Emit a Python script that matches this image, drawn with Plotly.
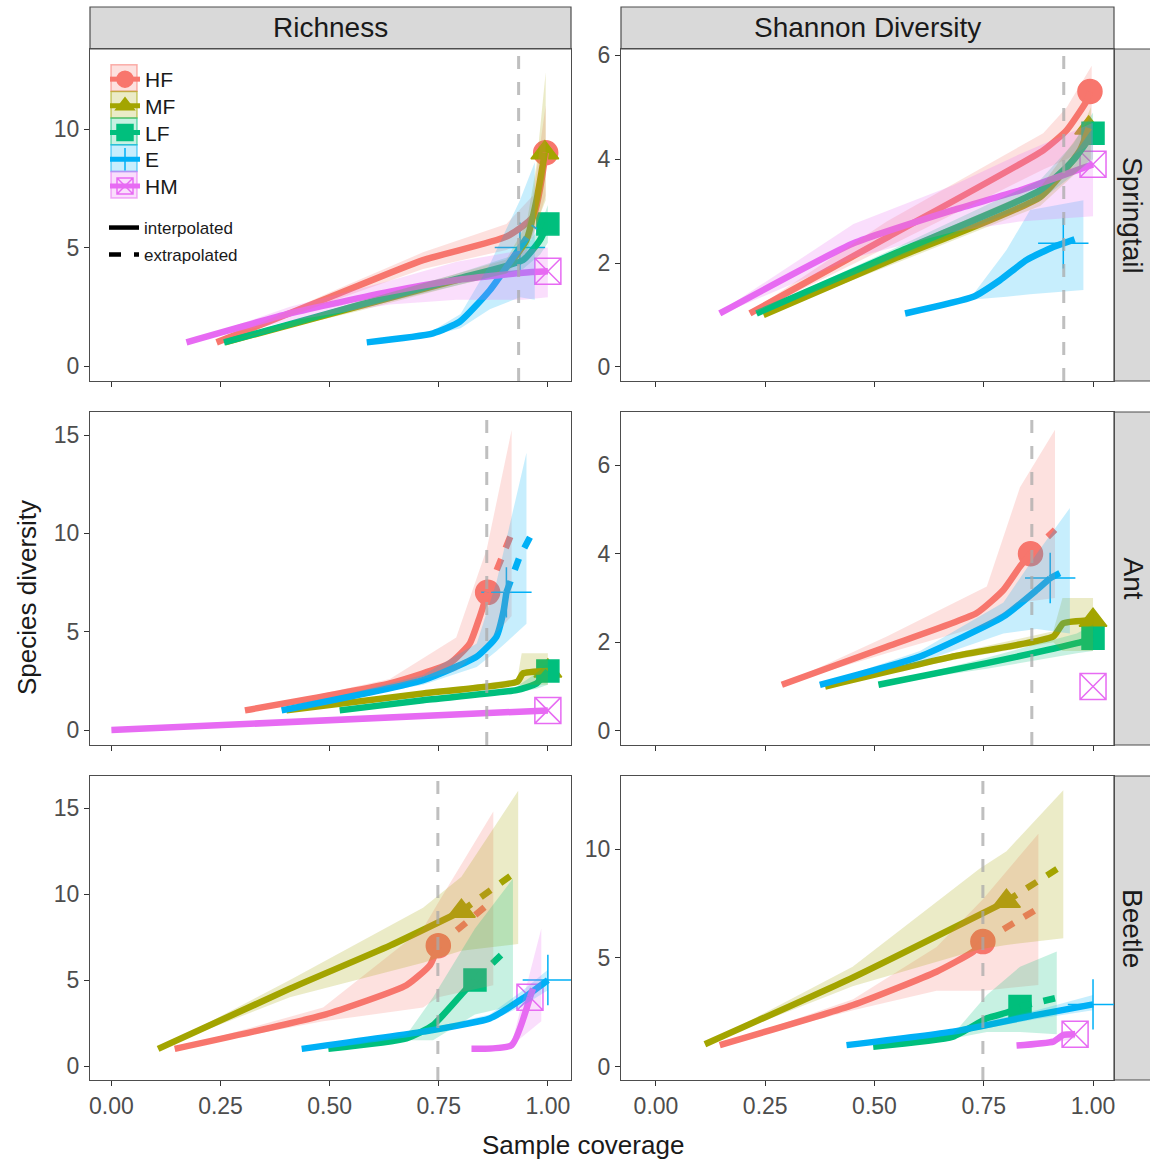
import plotly.graph_objects as go

# ---------------- data ----------------
GROUPS = ["HF", "MF", "LF", "E", "HM"]
TAXA = ["Springtail", "Ant", "Beetle"]
METRICS = ["Richness", "Shannon Diversity"]
LINE_TYPES = ["interpolated", "extrapolated"]
ref_coverage = {"Springtail": 0.933, "Ant": 0.86, "Beetle": 0.748}
x_ticks = [0.0, 0.25, 0.5, 0.75, 1.0]
x_tick_labels = ["0.00", "0.25", "0.50", "0.75", "1.00"]
y_ticks = {("Springtail", "Richness"): [0, 5, 10], ("Springtail", "Shannon Diversity"): [0, 2, 4, 6],
           ("Ant", "Richness"): [0, 5, 10, 15], ("Ant", "Shannon Diversity"): [0, 2, 4, 6],
           ("Beetle", "Richness"): [0, 5, 10, 15], ("Beetle", "Shannon Diversity"): [0, 5, 10]}

# Springtail - Richness
sr_line_x = {"HF": [0.241, 0.50, 0.714, 0.905, 0.966, 0.995], "MF": [0.26, 0.562, 0.791, 0.905, 0.951, 0.974, 0.993],
             "LF": [0.258, 0.562, 0.791, 0.943, 0.982, 1.0], "E": [0.585, 0.737, 0.798, 0.867, 0.936],
             "HM": [0.172, 0.409, 0.638, 0.791, 0.943, 1.0]}
sr_line_y = {"HF": [1.0, 2.9, 4.47, 5.46, 6.3, 9.0], "MF": [1.0, 2.5, 3.63, 4.19, 5.32, 7.0, 9.0],
             "LF": [1.0, 2.55, 3.68, 4.47, 5.32, 6.0], "E": [1.0, 1.38, 1.87, 3.2, 5.0],
             "HM": [1.0, 2.22, 3.14, 3.63, 3.94, 4.0]}
sr_ext_x = {"E": [0.936, 0.97]}
sr_ext_y = {"E": [5.0, 5.9]}
sr_band_x = {"HF": [0.241, 0.5, 0.714, 0.905, 0.966, 0.995], "MF": [0.26, 0.562, 0.791, 0.905, 0.951, 0.974, 0.995],
             "LF": [0.258, 0.562, 0.791, 0.943, 0.982, 1.0], "E": [0.737, 0.8, 0.867, 0.936, 0.97],
             "HM": [0.172, 0.409, 0.638, 0.791, 0.943, 1.0]}
sr_band_lo = {"HF": [1, 2.7, 4.1, 4.9, 5.4, 7.2], "MF": [1, 2.3, 3.4, 3.9, 4.8, 6.0, 7.0],
              "LF": [1, 2.4, 3.4, 4.1, 4.7, 5.2], "E": [1.3, 1.6, 2.4, 2.9, 2.8], "HM": [1, 1.9, 2.6, 2.8, 2.8, 2.9]}
sr_band_hi = {"HF": [1, 3.1, 4.8, 6.0, 7.2, 11.0], "MF": [1, 2.7, 3.9, 4.5, 6.0, 8.5, 12.4],
              "LF": [1, 2.7, 3.9, 4.8, 5.9, 6.8], "E": [1.5, 2.2, 4.3, 7.0, 8.6], "HM": [1, 2.5, 3.6, 4.4, 4.9, 5.0]}

# Springtail - Shannon
sd_line_x = {"HF": [0.215, 0.528, 0.886, 0.94, 0.986, 0.993], "MF": [0.246, 0.55, 0.879, 0.97, 0.99],
             "LF": [0.23, 0.55, 0.879, 0.955, 1.0], "E": [0.57, 0.726, 0.787, 0.848, 0.909, 0.932],
             "HM": [0.146, 0.452, 0.68, 0.833, 1.0]}
sd_line_y = {"HF": [1.03, 2.49, 4.17, 4.56, 5.13, 5.3], "MF": [1.0, 2.1, 3.27, 4.17, 4.6],
             "LF": [1.03, 2.2, 3.4, 3.98, 4.5], "E": [1.03, 1.35, 1.67, 2.06, 2.31, 2.38],
             "HM": [1.03, 2.38, 3.02, 3.4, 3.9]}
sd_ext_x = {"E": [0.932, 0.963]}
sd_ext_y = {"E": [2.38, 2.47]}
sd_band_x = {"HF": [0.215, 0.528, 0.886, 0.94, 0.997], "MF": [0.246, 0.55, 0.879, 0.97, 0.995],
             "LF": [0.23, 0.55, 0.879, 0.955, 1.0], "E": [0.726, 0.802, 0.856, 0.978],
             "HM": [0.146, 0.452, 0.68, 0.833, 1.0]}
sd_band_lo = {"HF": [1.0, 2.3, 3.8, 4.0, 4.3], "MF": [1.0, 2.0, 3.1, 3.8, 4.0], "LF": [1.0, 2.1, 3.2, 3.7, 4.0],
              "E": [1.3, 1.35, 1.4, 1.48], "HM": [1.0, 2.1, 2.6, 2.8, 2.9]}
sd_band_hi = {"HF": [1.06, 2.8, 4.5, 5.0, 5.8], "MF": [1.0, 2.25, 3.45, 4.5, 5.0], "LF": [1.06, 2.3, 3.6, 4.3, 4.9],
              "E": [1.4, 2.25, 3.02, 3.21], "HM": [1.06, 2.75, 3.5, 4.1, 4.7]}

# Ant - Richness
ar_line_x = {"HF": [0.306, 0.638, 0.775, 0.821, 0.844, 0.862], "MF": [0.401, 0.714, 0.93, 0.943, 1.0],
             "LF": [0.523, 0.714, 0.928, 0.974, 1.0], "E": [0.39, 0.714, 0.837, 0.882, 0.898, 0.905],
             "HM": [0.0, 1.0]}
ar_line_y = {"HF": [1.0, 2.37, 3.39, 4.4, 5.76, 7.0], "MF": [1.0, 1.86, 2.46, 2.88, 3.0],
             "LF": [1.0, 1.52, 2.03, 2.37, 3.0], "E": [1.0, 2.54, 3.73, 4.74, 6.0, 7.0], "HM": [0.0, 1.0]}
ar_ext_x = {"HF": [0.862, 0.917], "E": [0.905, 0.935, 0.959]}
ar_ext_y = {"HF": [7.0, 10.0], "E": [7.0, 8.8, 9.8]}
ar_band_x = {"HF": [0.306, 0.638, 0.79, 0.86, 0.917], "MF": [0.401, 0.714, 0.93, 0.94, 1.0],
             "LF": [0.523, 0.714, 0.928, 0.974, 1.0], "E": [0.39, 0.714, 0.837, 0.882, 0.951]}
ar_band_lo = {"HF": [1, 2.2, 3.0, 4.4, 5.8], "MF": [1, 1.8, 2.3, 2.3, 2.3], "LF": [1, 1.45, 1.9, 2.1, 2.3],
              "E": [1, 2.3, 3.2, 4.0, 5.4]}
ar_band_hi = {"HF": [1, 2.6, 4.7, 9.2, 15.25], "MF": [1, 1.95, 2.6, 3.9, 3.9], "LF": [1, 1.6, 2.2, 2.9, 3.4],
              "E": [1, 2.8, 4.4, 7.5, 14.1]}

# Ant - Shannon
ad_line_x = {"HF": [0.288, 0.528, 0.734, 0.795, 0.833, 0.857], "MF": [0.387, 0.68, 0.909, 0.932, 1.0],
             "LF": [0.509, 0.757, 0.963, 1.0], "E": [0.375, 0.604, 0.795, 0.871, 0.902], "HM": [1.0]}
ad_line_y = {"HF": [1.04, 1.9, 2.66, 3.18, 3.71, 4.0], "MF": [1.0, 1.68, 2.13, 2.43, 2.5],
             "LF": [1.04, 1.53, 1.98, 2.09], "E": [1.04, 1.68, 2.58, 3.18, 3.45], "HM": [1.0]}
ad_ext_x = {"HF": [0.857, 0.913], "E": [0.902, 0.924]}
ad_ext_y = {"HF": [4.0, 4.54], "E": [3.45, 3.56]}
ad_band_x = {"HF": [0.288, 0.528, 0.757, 0.833, 0.913], "MF": [0.387, 0.68, 0.909, 0.93, 1.0],
             "LF": [0.509, 0.757, 0.963, 1.0], "E": [0.375, 0.604, 0.795, 0.871, 0.947]}
ad_band_lo = {"HF": [1.04, 1.75, 2.4, 2.9, 3.0], "MF": [1, 1.6, 2.0, 1.8, 1.8], "LF": [1.04, 1.4, 1.75, 1.8],
              "E": [1.04, 1.55, 2.2, 2.3, 2.2]}
ad_band_hi = {"HF": [1.04, 2.13, 3.26, 5.5, 6.8], "MF": [1, 1.75, 2.25, 3.0, 3.0], "LF": [1.04, 1.65, 2.2, 2.4],
              "E": [1.04, 1.8, 2.9, 4.0, 5.03]}

# Beetle - Richness
br_line_x = {"HF": [0.145, 0.485, 0.676, 0.73, 0.749], "MF": [0.107, 0.409, 0.638, 0.802],
             "LF": [0.497, 0.676, 0.737, 0.821, 0.833], "E": [0.436, 0.714, 0.867, 0.943, 1.0],
             "HM": [0.825, 0.917, 0.959]}
br_line_y = {"HF": [1.0, 2.96, 4.7, 5.87, 7.0], "MF": [1.0, 4.5, 7.0, 9.0], "LF": [1.0, 1.61, 2.38, 4.7, 5.0],
             "E": [1.0, 2.0, 2.77, 3.94, 5.0], "HM": [1.0, 1.22, 4.0]}
br_ext_x = {"HF": [0.749, 0.875], "MF": [0.802, 0.928], "LF": [0.833, 0.909], "HM": [0.959, 0.966]}
br_ext_y = {"HF": [7.0, 9.65], "MF": [9.0, 11.3], "LF": [5.0, 6.84], "HM": [4.0, 4.5]}
br_band_x = {"HF": [0.145, 0.485, 0.714, 0.749, 0.875], "MF": [0.107, 0.409, 0.714, 0.802, 0.932],
             "LF": [0.497, 0.676, 0.737, 0.833, 0.92], "E": [0.436, 0.714, 0.867, 0.943, 1.0],
             "HM": [0.825, 0.917, 0.985]}
br_band_lo = {"HF": [1, 2.6, 3.4, 4.0, 4.7], "MF": [1, 4.0, 6.0, 6.7, 7.1], "LF": [1, 1.5, 1.5, 3.0, 3.5],
              "E": [1, 1.9, 2.6, 3.5, 4.4], "HM": [1, 1.2, 2.6]}
br_band_hi = {"HF": [1, 3.4, 8.0, 9.5, 14.8], "MF": [1, 5.0, 9.2, 11.0, 16.0], "LF": [1, 1.8, 4.0, 8.0, 10.9],
              "E": [1, 2.1, 3.0, 4.4, 5.6], "HM": [1, 1.3, 8.0]}

# Beetle - Shannon
bd_line_x = {"HF": [0.146, 0.451, 0.642, 0.726, 0.748], "MF": [0.112, 0.45, 0.802],
             "LF": [0.497, 0.68, 0.757, 0.81, 0.833], "E": [0.436, 0.68, 0.871, 1.0],
             "HM": [0.825, 0.909, 0.932, 0.959]}
bd_line_y = {"HF": [1.0, 2.84, 4.37, 5.29, 5.75], "MF": [1.04, 4.1, 7.6], "LF": [0.93, 1.39, 2.23, 2.54, 2.77],
             "E": [1.0, 1.62, 2.39, 2.87], "HM": [0.98, 1.16, 1.47, 1.5]}
bd_ext_x = {"HF": [0.748, 0.875], "MF": [0.802, 0.932], "LF": [0.833, 0.913]}
bd_ext_y = {"HF": [5.75, 7.28], "MF": [7.6, 9.27], "LF": [2.77, 3.15]}
bd_band_x = {"HF": [0.146, 0.451, 0.642, 0.748, 0.875], "MF": [0.112, 0.45, 0.741, 0.802, 0.932],
             "LF": [0.497, 0.68, 0.757, 0.833, 0.917], "E": [0.436, 0.68, 0.871, 1.0],
             "HM": [0.825, 0.909, 0.959]}
bd_band_lo = {"HF": [1, 2.6, 3.5, 3.5, 3.76], "MF": [1.04, 3.7, 5.4, 5.6, 5.9], "LF": [0.93, 1.3, 1.6, 1.6, 1.5],
              "E": [1, 1.5, 2.2, 2.6], "HM": [0.98, 1.1, 1.3]}
bd_band_hi = {"HF": [1, 3.1, 5.5, 7.7, 10.7], "MF": [1.04, 4.6, 9.1, 9.9, 12.7], "LF": [0.93, 1.5, 3.3, 4.6, 5.3],
              "E": [1, 1.75, 2.6, 3.3], "HM": [0.98, 1.25, 1.7]}

# ---------------- styling ----------------
FONT = "Liberation Sans, Arial, sans-serif"
COLORS = {"HF": "#F8766D", "MF": "#A3A500", "LF": "#00BF7D", "E": "#00B0F6", "HM": "#E76BF3"}
RGB = {"HF": "248,118,109", "MF": "163,165,0", "LF": "0,191,125", "E": "0,176,246", "HM": "231,107,243"}
SYMBOLS = {"HF": "circle", "MF": "triangle-up", "LF": "square", "E": "cross-thin-open", "HM": "square-x-open"}
SIZES = {"HF": 24, "MF": 24, "LF": 22, "E": 36, "HM": 26}
LW = 6.5

W, H = 1150, 1162
col_px = [(90, 571), (621, 1114)]
row_px = [(49, 381), (412, 745), (776, 1080)]
x_rng = [(-0.049, 1.053), (-0.08, 1.048)]
y_rng = [[(-0.63, 13.38), (-0.27, 6.12)], [(-0.76, 16.17), (-0.32, 7.2)], [(-0.81, 16.86), (-0.6, 13.35)]]

panels = {
    ("Springtail", "Richness"): (sr_line_x, sr_line_y, sr_ext_x, sr_ext_y, sr_band_x, sr_band_lo, sr_band_hi),
    ("Springtail", "Shannon Diversity"): (sd_line_x, sd_line_y, sd_ext_x, sd_ext_y, sd_band_x, sd_band_lo, sd_band_hi),
    ("Ant", "Richness"): (ar_line_x, ar_line_y, ar_ext_x, ar_ext_y, ar_band_x, ar_band_lo, ar_band_hi),
    ("Ant", "Shannon Diversity"): (ad_line_x, ad_line_y, ad_ext_x, ad_ext_y, ad_band_x, ad_band_lo, ad_band_hi),
    ("Beetle", "Richness"): (br_line_x, br_line_y, br_ext_x, br_ext_y, br_band_x, br_band_lo, br_band_hi),
    ("Beetle", "Shannon Diversity"): (bd_line_x, bd_line_y, bd_ext_x, bd_ext_y, bd_band_x, bd_band_lo, bd_band_hi),
}

fig = go.Figure()
layout = dict(width=W, height=H, margin=dict(l=0, r=0, t=0, b=0, autoexpand=False), paper_bgcolor="white",
              plot_bgcolor="white", showlegend=True)
shapes, annotations = [], []

for r, taxon in enumerate(TAXA):
    for c, metric in enumerate(METRICS):
        k = r * 2 + c + 1
        sfx = "" if k == 1 else str(k)
        xa, ya = "x" + sfx, "y" + sfx
        lx, ly, ex, ey, bx, blo, bhi = panels[(taxon, metric)]
        # points (observed = last interpolated point)
        for g in GROUPS:
            if g not in lx:
                continue
            fig.add_trace(go.Scatter(
                x=[lx[g][-1]], y=[ly[g][-1]], mode="markers", xaxis=xa, yaxis=ya, showlegend=False,
                hoverinfo="skip",
                marker=dict(symbol=SYMBOLS[g], size=SIZES[g], color=COLORS[g],
                            line=dict(color=COLORS[g], width=1.5))))
        # lines
        for g in GROUPS:
            if g in lx and len(lx[g]) > 1:
                fig.add_trace(go.Scatter(x=lx[g], y=ly[g], mode="lines", xaxis=xa, yaxis=ya,
                                         showlegend=False, hoverinfo="skip",
                                         line=dict(color=COLORS[g], width=LW, shape="spline", smoothing=0.5)))
            if g in ex:
                fig.add_trace(go.Scatter(x=ex[g], y=ey[g], mode="lines", xaxis=xa, yaxis=ya,
                                         showlegend=False, hoverinfo="skip",
                                         line=dict(color=COLORS[g], width=LW, dash="12px,12px")))
        # ribbons
        for g in GROUPS:
            if g in bx:
                fig.add_trace(go.Scatter(x=bx[g] + bx[g][::-1], y=bhi[g] + blo[g][::-1], mode="lines",
                                         fill="toself", fillcolor=f"rgba({RGB[g]},0.22)", line=dict(width=0),
                                         xaxis=xa, yaxis=ya, showlegend=False, hoverinfo="skip"))
        # reference coverage line
        shapes.append(dict(type="line", xref=xa, yref=ya + " domain", x0=ref_coverage[taxon],
                           x1=ref_coverage[taxon], y0=0, y1=1, layer="above",
                           line=dict(color="rgba(170,170,170,0.75)", width=3, dash="13px,13px")))

        xd = [col_px[c][0] / W, col_px[c][1] / W]
        yd = [1 - row_px[r][1] / H, 1 - row_px[r][0] / H]
        axis_common = dict(showgrid=False, zeroline=False, showline=True, mirror=True, automargin=False,
                           linecolor="#4d4d4d", linewidth=1.2, ticks="outside", ticklen=5,
                           tickcolor="#333333", tickwidth=1.2,
                           tickfont=dict(family=FONT, size=23, color="#4d4d4d"))
        layout["xaxis" + sfx] = dict(domain=xd, range=list(x_rng[c]), anchor=ya, tickvals=x_ticks,
                                     ticktext=x_tick_labels, showticklabels=(r == 2), **axis_common)
        layout["yaxis" + sfx] = dict(domain=yd, range=list(y_rng[r][c]), anchor=xa,
                                     tickvals=y_ticks[(taxon, metric)], **axis_common)

# ---------------- legends (one native legend per key, stacked like the ggplot guide) ----------------
key_cy = [78, 104.7, 131.4, 158.1, 184.8]
for i, g in enumerate(GROUPS):
    lname = "legend" if i == 0 else f"legend{i + 1}"
    fig.add_trace(go.Scatter(x=[None], y=[None], mode="lines+markers", name=g, legend=lname,
                             xaxis="x", yaxis="y",
                             line=dict(color=COLORS[g], width=5),
                             marker=dict(symbol=SYMBOLS[g], size=20 if g != "E" else 24, color=COLORS[g],
                                         line=dict(color=COLORS[g], width=1.5))))
    layout[lname] = dict(x=105 / W, y=1 - (key_cy[i] + 1.5) / H, xanchor="left", yanchor="middle",
                         bgcolor="rgba(0,0,0,0)", font=dict(family=FONT, size=21, color="#1a1a1a"),
                         itemwidth=30)
    shapes.append(dict(type="rect", xref="paper", yref="paper", x0=111 / W, x1=137 / W,
                       y0=1 - (key_cy[i] + 13.3) / H, y1=1 - (key_cy[i] - 13.3) / H,
                       fillcolor=f"rgba({RGB[g]},0.22)", line=dict(color=f"rgba({RGB[g]},0.55)", width=1.5),
                       layer="above"))
lt_cy = [228, 255]
for j, (name, dash) in enumerate(zip(LINE_TYPES, ["solid", "12px,13px"])):
    lname = f"legend{len(GROUPS) + j + 1}"
    fig.add_trace(go.Scatter(x=[None], y=[None], mode="lines", name=name, legend=lname,
                             xaxis="x", yaxis="y", line=dict(color="black", width=4.5, dash=dash)))
    layout[lname] = dict(x=104 / W, y=1 - lt_cy[j] / H, xanchor="left", yanchor="middle",
                         bgcolor="rgba(0,0,0,0)", font=dict(family=FONT, size=17, color="#1a1a1a"),
                         itemwidth=30)

# ---------------- strips ----------------
for c, metric in enumerate(METRICS):
    shapes.append(dict(type="rect", xref="paper", yref="paper", x0=col_px[c][0] / W, x1=col_px[c][1] / W,
                       y0=1 - 49 / H, y1=1 - 7 / H, fillcolor="#D9D9D9", line=dict(color="#4d4d4d", width=1.2),
                       layer="below"))
    annotations.append(dict(text=metric, xref="paper", yref="paper", x=(col_px[c][0] + col_px[c][1]) / 2 / W,
                            y=1 - 28 / H, showarrow=False, xanchor="center", yanchor="middle",
                            font=dict(family=FONT, size=28, color="#1a1a1a")))
for r, taxon in enumerate(TAXA):
    shapes.append(dict(type="rect", xref="paper", yref="paper", x0=1114 / W, x1=1160 / W,
                       y0=1 - row_px[r][1] / H, y1=1 - row_px[r][0] / H, fillcolor="#D9D9D9",
                       line=dict(color="#4d4d4d", width=1.2), layer="below"))
    annotations.append(dict(text=taxon, xref="paper", yref="paper", x=1133 / W,
                            y=1 - (row_px[r][0] + row_px[r][1]) / 2 / H, showarrow=False, textangle=90,
                            xanchor="center", yanchor="middle",
                            font=dict(family=FONT, size=28, color="#1a1a1a")))

annotations.append(dict(text="Species diversity", xref="paper", yref="paper", x=27 / W, y=1 - 598 / H,
                        showarrow=False, textangle=-90, xanchor="center", yanchor="middle",
                        font=dict(family=FONT, size=26, color="#1a1a1a")))
annotations.append(dict(text="Sample coverage", xref="paper", yref="paper", x=583 / W, y=1 - 1145 / H,
                        showarrow=False, xanchor="center", yanchor="middle",
                        font=dict(family=FONT, size=26, color="#1a1a1a")))

layout["shapes"] = shapes
layout["annotations"] = annotations
fig.update_layout(**layout)
fig.write_html("out.html")
